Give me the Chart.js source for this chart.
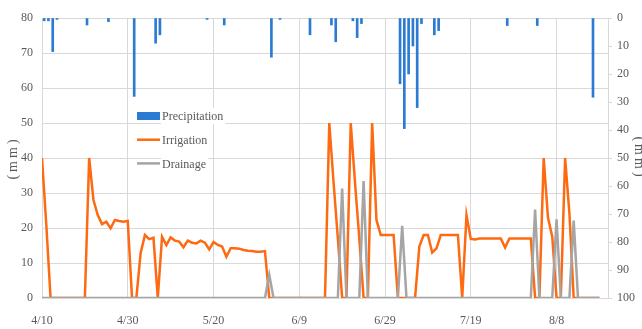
<!DOCTYPE html>
<html>
<head>
<meta charset="utf-8">
<script src="https://cdn.jsdelivr.net/npm/chart.js@4/dist/chart.umd.min.js"></script>
<style>
  html, body { margin: 0; padding: 0; background: #fff; }
</style>
</head>
<body>
<canvas id="chart" width="642" height="329"></canvas>
<script>
// x axis: day number counted from 4/10, one label every 20 days
const xTickLabels = ["4/10", "4/30", "5/20", "6/9", "6/29", "7/19", "8/8"];
const TICK_STEP = 20;
const LAST_DAY = 132;

// precipitation (right axis, hanging from the top)
const precipDays = [0, 1, 2, 3, 10, 15, 21, 26, 27, 38, 42, 53, 55, 62, 67, 68, 72, 73, 74,
  83, 84, 85, 86, 87, 88, 91, 92, 108, 115, 128];
const precipMm = [1, 1, 12, 0.5, 2.5, 1.3, 28, 9, 6, 0.5, 2.5, 14, 0.5, 6, 2.5, 8.5, 1, 7, 2,
  23.5, 39.5, 20, 10, 32, 2, 6, 4.5, 2.7, 2.7, 28.3];

// daily irrigation, day 0 = 4/10
const irrigationMm = [
  40, 21, 0, 0, 0, 0, 0, 0, 0, 0,
  0, 40, 28, 23.7, 21.1, 21.8, 19.9, 22.3, 22, 21.8,
  22, 0, 0, 12.8, 18, 16.8, 17.2, 0, 17.5, 15.1,
  17.3, 16.4, 16.1, 14.5, 16.4, 15.8, 15.6, 16.4, 15.8, 13.9,
  16, 15.2, 14.7, 11.8, 14.2, 14.2, 14.1, 13.7, 13.5, 13.4,
  13.2, 13.2, 13.4, 0, 0, 0, 0, 0, 0, 0,
  0, 0, 0, 0, 0, 0, 0, 50, 33, 17,
  0, 0, 50, 33, 17, 0, 0, 50, 22.3, 18,
  18, 18, 18, 0, 0, 0, 0, 0, 14.7, 18,
  18, 13, 14.2, 18, 18, 18, 18, 18, 0, 23.7,
  16.9, 16.7, 17, 17, 17, 17, 17, 17, 14.4, 17,
  17, 17, 17, 17, 17, 0, 0, 40, 23, 17.5,
  0, 0, 40, 24.2, 0, 0, 0, 0, 0, 0,
  0
];

// daily drainage, day 0 = 4/10
const drainageMm = [
  0, 0, 0, 0, 0, 0, 0, 0, 0, 0,
  0, 0, 0, 0, 0, 0, 0, 0, 0, 0,
  0, 0, 0, 0, 0, 0, 0, 0, 0, 0,
  0, 0, 0, 0, 0, 0, 0, 0, 0, 0,
  0, 0, 0, 0, 0, 0, 0, 0, 0, 0,
  0, 0, 0, 6.6, 0, 0, 0, 0, 0, 0,
  0, 0, 0, 0, 0, 0, 0, 0, 0, 0,
  31.3, 0, 0, 0, 0, 33.4, 0, 0, 0, 0,
  0, 0, 0, 0, 20.6, 0, 0, 0, 0, 0,
  0, 0, 0, 0, 0, 0, 0, 0, 0, 0,
  0, 0, 0, 0, 0, 0, 0, 0, 0, 0,
  0, 0, 0, 0, 0, 25.3, 0, 0, 0, 0,
  22.5, 0, 0, 0, 22.1, 0, 0, 0, 0, 0,
  0
];

const AXIS_TITLE = "(mm)";
const TEXT_COLOR = "#595959";
const GRID_COLOR = "#d9d9d9";
const FONT = "'Liberation Serif', 'Times New Roman', serif";

Chart.defaults.font.family = FONT;
Chart.defaults.font.size = 12;
Chart.defaults.color = TEXT_COLOR;

function toPoints(values) {
  return values.map((v, i) => ({ x: i, y: v }));
}

// the columns sit half a day right of the line points in the original
const precipPoints = precipDays.map((d, i) => ({ x: d + 0.5, y: precipMm[i] }));

const insideLegend = {
  id: "insideLegend",
  afterDraw(chart) {
    const ctx = chart.ctx;
    const x = 137, y0 = 116, gap = 23.7;
    ctx.save();
    ctx.font = "12px " + FONT;
    ctx.textBaseline = "middle";
    chart.data.datasets.forEach((ds, i) => {
      const y = y0 + i * gap;
      const w = ctx.measureText(ds.label).width;
      ctx.fillStyle = "#fff";
      ctx.fillRect(x + 24, y - 8, w + 3, 16);
      if (ds.type === "bar") {
        ctx.fillStyle = ds.backgroundColor;
        ctx.fillRect(x, y - 4, 23, 8);
      } else {
        ctx.strokeStyle = ds.borderColor;
        ctx.lineWidth = 2.5;
        ctx.beginPath();
        ctx.moveTo(x, y);
        ctx.lineTo(x + 23, y);
        ctx.stroke();
      }
      ctx.fillStyle = TEXT_COLOR;
      ctx.textAlign = "left";
      ctx.fillText(ds.label, x + 25, y + 1);
    });
    ctx.restore();
  },
};

const axisTitles = {
  id: "axisTitles",
  afterDraw(chart) {
    const ctx = chart.ctx;
    const area = chart.chartArea;
    const cy = (area.top + area.bottom) / 2;
    ctx.save();
    ctx.font = "14px " + FONT;
    ctx.fillStyle = TEXT_COLOR;
    ctx.textAlign = "center";
    ctx.textBaseline = "middle";
    ctx.letterSpacing = "3px";
    ctx.save();
    ctx.translate(13, cy);
    ctx.rotate(-Math.PI / 2);
    ctx.fillText(AXIS_TITLE, 0, 0);
    ctx.restore();
    ctx.save();
    ctx.translate(639, cy);
    ctx.rotate(Math.PI / 2);
    ctx.fillText(AXIS_TITLE, 0, 0);
    ctx.restore();
    ctx.restore();
  },
};

new Chart(document.getElementById("chart"), {
  type: "line",
  data: {
    datasets: [
      {
        type: "bar",
        label: "Precipitation",
        data: precipPoints,
        yAxisID: "y2",
        backgroundColor: "#2b7bd3",
        borderWidth: 0,
        barThickness: 2,
        order: 2,
      },
      {
        label: "Irrigation",
        data: toPoints(irrigationMm),
        yAxisID: "y",
        borderColor: "#fd6a12",
        borderWidth: 2.5,
        pointRadius: 0,
        tension: 0,
        order: 1,
      },
      {
        label: "Drainage",
        data: toPoints(drainageMm),
        yAxisID: "y",
        borderColor: "#a5a5a5",
        borderWidth: 2.5,
        pointRadius: 0,
        tension: 0,
        order: 0,
      },
    ],
  },
  options: {
    responsive: false,
    animation: false,
    devicePixelRatio: 1,
    layout: { padding: { top: 18, left: 0, right: 0, bottom: 0 } },
    plugins: {
      legend: { display: false },
      tooltip: { enabled: false },
    },
    scales: {
      x: {
        type: "linear",
        min: 0,
        max: LAST_DAY,
        offset: false,
        grid: { color: GRID_COLOR, drawTicks: false, offset: false },
        border: { color: GRID_COLOR },
        ticks: {
          stepSize: TICK_STEP,
          padding: 16,
          maxRotation: 0,
          autoSkip: false,
          callback: (v) => xTickLabels[v / TICK_STEP] ?? "",
        },
        afterBuildTicks: (s) => {
          s.ticks = s.ticks.filter((t) => t.value % TICK_STEP === 0);
        },
        afterFit: (s) => { s.height = 31; },
      },
      y: {
        position: "left",
        min: 0,
        max: 80,
        grid: { color: GRID_COLOR, drawTicks: false },
        border: { color: GRID_COLOR },
        ticks: { stepSize: 10, padding: 9 },
        afterFit: (s) => { s.width = 42; },
      },
      y2: {
        position: "right",
        min: 0,
        max: 100,
        reverse: true,
        grid: { drawOnChartArea: false, color: GRID_COLOR, tickLength: 4 },
        border: { color: GRID_COLOR },
        ticks: { stepSize: 10, padding: 5 },
        afterFit: (s) => { s.width = 34; },
      },
    },
  },
  plugins: [insideLegend, axisTitles],
});
</script>
</body>
</html>
